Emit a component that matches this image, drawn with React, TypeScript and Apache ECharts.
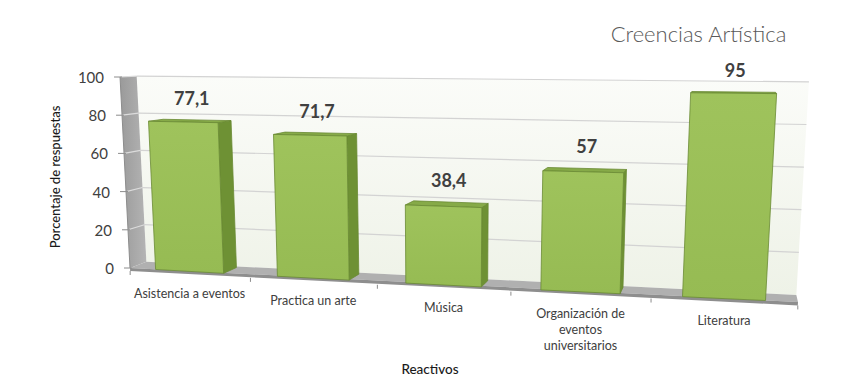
import React, { useEffect, useRef } from "react";
import * as echarts from "echarts";

const categories = [
  "Asistencia a eventos",
  "Practica un arte",
  "Música",
  "Organización de\neventos\nuniversitarios",
  "Literatura",
];
const values = [77.1, 71.7, 38.4, 57, 95];
const yTicks = [0, 20, 40, 60, 80, 100];
const TITLE = "Creencias Artística";
const Y_NAME = "Porcentaje de respuestas";
const X_NAME = "Reactivos";

const FONT = 'Lato, "Open Sans", sans-serif';
// perspective settings (style only)
const VP = [736, 41];
const KW = 0.027; // wall depth
const KB = 0.025; // bar depth
const BAR_RATIO = 0.565;

function makeProj(cs: any) {
  const x0 = cs.x;
  const W = cs.width;
  const yb = cs.y + cs.height;
  return (px: number, py: number, k: number) => {
    const t = (px - x0) / W;
    const h0 = yb - py;
    const X0 = px - 82.8 * t * (1 - t);
    const Y0 = yb + 34 * t;
    const h = h0 * (1 + 0.1466 * t);
    const X = X0 + ((X0 - 443) * h) / 6000;
    const Y = Y0 - h;
    return [X + k * (VP[0] - X), Y + k * (VP[1] - Y)];
  };
}

function fmt(v: number) {
  return String(v).replace(".", ",");
}

function renderFrame(params: any, api: any) {
  const cs = params.coordSys;
  const P = makeProj(cs);
  const xl = cs.x;
  const xr = cs.x + cs.width;
  const yb = api.coord([0, 0])[1];
  const yt = api.coord([0, 100])[1];
  const children: any[] = [];
  children.push({
    type: "polygon",
    shape: { points: [P(xl, yb, KW), P(xr, yb, KW), P(xr, yt, KW), P(xl, yt, KW)] },
    style: {
      fill: new echarts.graphic.LinearGradient(0, 0, 0, 1, [
        { offset: 0, color: "#fbfcf9" },
        { offset: 1, color: "#eef2e7" },
      ]),
    },
  });
  yTicks.forEach((tv) => {
    const py = api.coord([0, tv])[1];
    if (tv > 0) {
      const a = P(xl, py, KW);
      const b = P(xr, py, KW);
      children.push({
        type: "line",
        shape: { x1: a[0], y1: a[1], x2: b[0], y2: b[1] },
        style: { stroke: "#d3d3d3", lineWidth: 1.2 },
      });
    }
  });
  children.push({
    type: "polygon",
    shape: { points: [P(xl, yb, 0), P(xl, yt, 0), P(xl, yt, KW), P(xl, yb, KW)] },
    style: {
      fill: new echarts.graphic.LinearGradient(0, 0, 1, 0, [
        { offset: 0, color: "#9a9a9a" },
        { offset: 1, color: "#b4b4b4" },
      ]),
    },
  });
  yTicks.forEach((tv) => {
    const py = api.coord([0, tv])[1];
    if (tv > 0) {
      const a = P(xl, py, 0);
      const b = P(xl, py, KW);
      children.push({
        type: "line",
        shape: { x1: a[0], y1: a[1], x2: b[0], y2: b[1] },
        style: { stroke: "#dcdcdc", lineWidth: 1.2 },
      });
    }
  });
  children.push({
    type: "polygon",
    shape: { points: [P(xl, yb, 0), P(xr, yb, 0), P(xr, yb, KW), P(xl, yb, KW)] },
    style: { fill: "#b0b0b0" },
  });
  children.push({
    type: "polygon",
    shape: { points: [P(xl, yb, 0), P(xr, yb, 0), P(xr, yb + 3, 0), P(xl, yb + 3, 0)] },
    style: { fill: "#8e8e8e" },
  });
  {
    const a = P(xl, yb, 0);
    const b = P(xl, yt, 0);
    children.push({
      type: "line",
      shape: { x1: a[0], y1: a[1], x2: b[0], y2: b[1] },
      style: { stroke: "#8c8c8c", lineWidth: 1 },
    });
  }
  yTicks.forEach((tv) => {
    const py = api.coord([0, tv])[1];
    const a = P(xl, py, 0);
    children.push({
      type: "line",
      shape: { x1: a[0] - 6, y1: a[1], x2: a[0] + 2, y2: a[1] },
      style: { stroke: "#8c8c8c", lineWidth: 1 },
    });
    children.push({
      type: "text",
      style: {
        text: String(tv),
        x: a[0] - 16,
        y: a[1],
        align: "right",
        verticalAlign: "middle",
        textAlign: "right",
        textVerticalAlign: "middle",
        fontFamily: FONT,
        fontSize: 15,
        fill: "#404040",
      },
    });
  });
  for (let i = 0; i <= categories.length; i++) {
    const px = xl + (cs.width * i) / categories.length;
    const a = P(px, yb + 3, 0);
    children.push({
      type: "line",
      shape: { x1: a[0], y1: a[1], x2: a[0], y2: a[1] + 4 },
      style: { stroke: "#8c8c8c", lineWidth: 1 },
    });
  }
  return { type: "group", children };
}

function renderBar(params: any, api: any) {
  const cs = params.coordSys;
  const P = makeProj(cs);
  const i = api.value(0);
  const v = api.value(1);
  const base = api.coord([i, 0]);
  const top = api.coord([i, v]);
  const bw = api.size([1, 0])[0] * BAR_RATIO;
  const L = base[0] - bw / 2;
  const R = base[0] + bw / 2;
  const FLb = P(L, base[1], 0);
  const FRb = P(R, base[1], 0);
  const FLt = P(L, top[1], 0);
  const FRt = P(R, top[1], 0);
  const BLt = P(L, top[1], KB);
  const BRt = P(R, top[1], KB);
  const BRb = P(R, base[1], KB);
  const BLb = P(L, base[1], KB);
  const edge = "#6a8a33";
  const children: any[] = [];
  if (FRt[0] < VP[0]) {
    children.push({
      type: "polygon",
      shape: { points: [FRb, FRt, BRt, BRb] },
      style: { fill: "#6e9134", stroke: edge, lineWidth: 0.8 },
    });
  }
  if (FLt[0] > VP[0]) {
    children.push({
      type: "polygon",
      shape: { points: [FLb, FLt, BLt, BLb] },
      style: { fill: "#6e9134", stroke: edge, lineWidth: 0.8 },
    });
  }
  children.push({
    type: "polygon",
    shape: { points: [FLt, FRt, BRt, BLt] },
    style: { fill: "#86aa48", stroke: edge, lineWidth: 0.8 },
  });
  children.push({
    type: "polygon",
    shape: { points: [FLb, FLt, FRt, FRb] },
    style: {
      fill: new echarts.graphic.LinearGradient(0, 0, 0, 1, [
        { offset: 0, color: "#9fc35c" },
        { offset: 1, color: "#96bb53" },
      ]),
      stroke: edge,
      lineWidth: 0.8,
    },
  });
  children.push({
    type: "text",
    style: {
      text: fmt(v),
      x: (FLt[0] + BRt[0]) / 2 + 2,
      y: Math.min(FLt[1], BLt[1]) - 21,
      align: "center",
      verticalAlign: "middle",
      textAlign: "center",
      textVerticalAlign: "middle",
      fontFamily: FONT,
      fontWeight: "bold",
      fontSize: 18,
      fill: "#404040",
    },
  });
  children.push({
    type: "text",
    style: {
      text: categories[i],
      x: (FLb[0] + FRb[0]) / 2,
      y: (FLb[1] + FRb[1]) / 2 + 14,
      align: "center",
      verticalAlign: "top",
      textAlign: "center",
      textVerticalAlign: "top",
      fontFamily: FONT,
      fontSize: 12.5,
      lineHeight: 16,
      fill: "#404040",
    },
  });
  return { type: "group", children };
}

export default function App() {
  const ref = useRef<HTMLDivElement>(null);
  useEffect(() => {
    const chart = echarts.init(ref.current!, null, { renderer: "svg" });
    chart.setOption({
      animation: false,
      backgroundColor: "#ffffff",
      title: {
        text: TITLE,
        right: 62,
        top: 17,
        textStyle: { fontFamily: FONT, fontWeight: 300, fontSize: 22, color: "#595959" },
      },
      grid: { left: 130, right: 56, top: 77, bottom: 122 },
      xAxis: { type: "category", data: categories, show: false },
      yAxis: { type: "value", min: 0, max: 100, interval: 20, show: false },
      graphic: [
        {
          type: "text",
          x: 55,
          y: 177,
          rotation: Math.PI / 2,
          style: {
            text: Y_NAME,
            textAlign: "center",
            textVerticalAlign: "middle",
            align: "center",
            verticalAlign: "middle",
            fontFamily: FONT,
            fontSize: 13,
            fontWeight: 500,
            fill: "#1a1a1a",
          },
        },
        {
          type: "text",
          x: 430,
          y: 369,
          style: {
            text: X_NAME,
            textAlign: "center",
            textVerticalAlign: "middle",
            align: "center",
            verticalAlign: "middle",
            fontFamily: FONT,
            fontSize: 13.5,
            fontWeight: 500,
            fill: "#1a1a1a",
          },
        },
      ],
      series: [
        {
          type: "custom",
          name: "frame",
          clip: false,
          silent: true,
          z: 1,
          data: [[0, 0]],
          renderItem: renderFrame,
        },
        {
          type: "custom",
          name: "Creencias",
          clip: false,
          z: 3,
          data: values.map((v, i) => [i, v]),
          renderItem: renderBar,
        },
      ],
    });
    return () => chart.dispose();
  }, []);
  return (
    <div
      ref={ref}
      style={{ position: "fixed", left: 0, top: 0, width: 854, height: 390 }}
    />
  );
}
